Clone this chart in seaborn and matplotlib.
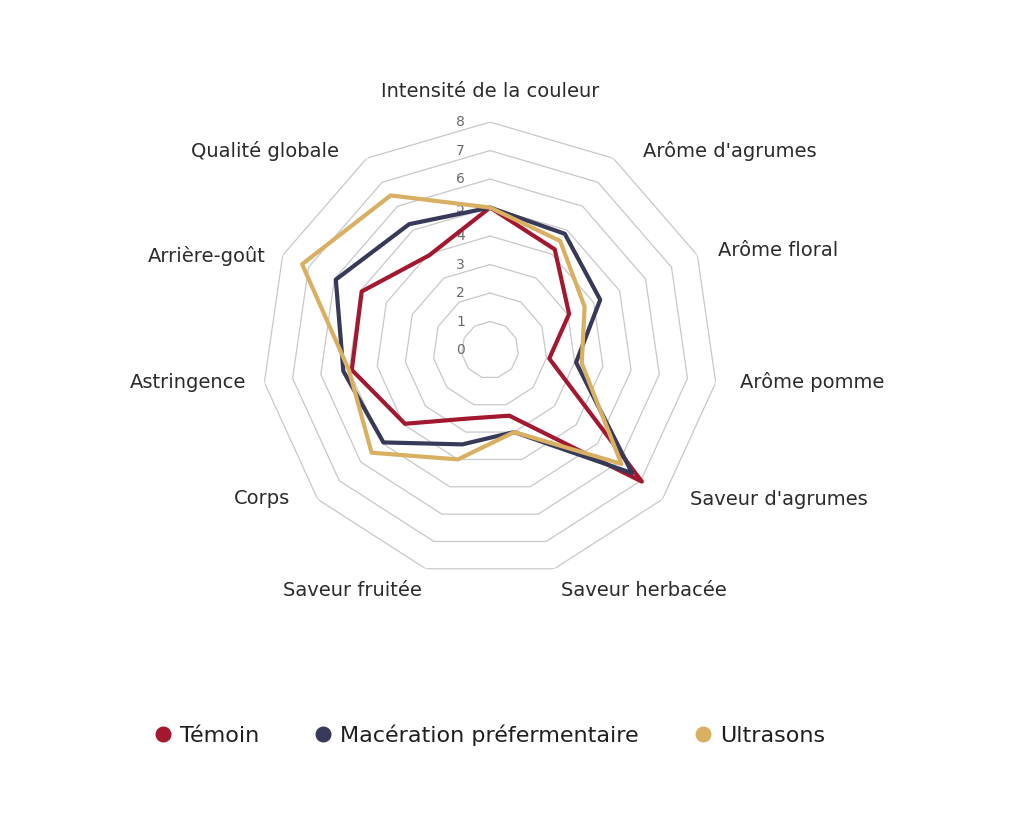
import numpy as np
import pandas as pd
import matplotlib
matplotlib.use("Agg")
import matplotlib.pyplot as plt
from matplotlib.lines import Line2D
import seaborn as sns

categories = ["Intensité de la couleur", "Arôme d'agrumes", "Arôme floral", "Arôme pomme",
              "Saveur d'agrumes", "Saveur herbacée", "Saveur fruitée", "Corps",
              "Astringence", "Arrière-goût", "Qualité globale"]
temoin = [5.0, 4.2, 3.05, 2.1, 7.05, 2.4, 2.5, 3.95, 4.9, 4.95, 3.95]
maceration = [5.0, 4.85, 4.25, 3.05, 6.6, 3.0, 3.45, 4.95, 5.2, 5.95, 5.25]
ultrasons = [5.0, 4.55, 3.65, 3.25, 6.1, 3.0, 4.0, 5.5, 5.0, 7.25, 6.45]
series_names = ["Témoin", "Macération préfermentaire", "Ultrasons"]
ticks = [0, 1, 2, 3, 4, 5, 6, 7, 8]

colors = ["#A3182F", "#363A58", "#D9B062"]

# label layout (pixel offsets from the outer ring vertex) and alignment
label_offsets = [(0, 31), (30, 7), (21, 5), (24, 0), (28, 0), (7, -22), (-4, -22),
                 (-28, 1), (-18, 0), (-17, -1), (-28, 7)]
label_ha = ["center", "left", "left", "left", "left", "left", "right",
            "right", "right", "right", "right"]

sns.set_theme(style="white")
plt.rcParams['font.family'] = ['DejaVu Sans']

n = len(categories)
angles = np.linspace(0, 2 * np.pi, n, endpoint=False)
closed_angles = np.append(angles, 2 * np.pi)

frames = []
for name, vals in zip(series_names, [temoin, maceration, ultrasons]):
    frames.append(pd.DataFrame({"theta": closed_angles,
                                "value": list(vals) + [vals[0]],
                                "group": name}))
df = pd.concat(frames, ignore_index=True)

fig = plt.figure(figsize=(10.24, 8.22), dpi=100)
ax = fig.add_axes([0.2559, 0.2968, 0.4453, 0.5547], projection="polar")
ax.set_theta_offset(np.pi / 2)
ax.set_theta_direction(-1)

# polygon grid rings
for t in ticks[1:]:
    ax.plot(closed_angles, [t] * (n + 1), color="#C8C8C8", lw=0.9, zorder=1)

sns.lineplot(data=df, x="theta", y="value", hue="group", sort=False, estimator=None,
             units="group", palette=dict(zip(series_names, colors)), hue_order=series_names,
             lw=3.0, legend=False, ax=ax, zorder=3)

ax.set_ylim(0, 8)
ax.grid(False)
ax.spines["polar"].set_visible(False)
ax.set_xticks([])
ax.set_yticks([])
ax.set_xlabel("")
ax.set_ylabel("")
ax.set_facecolor("none")

# tick labels
for t in ticks:
    ax.annotate(str(t), xy=(0, t), xytext=(-25, 0), textcoords="offset pixels",
                ha="right", va="center", fontsize=10, color="#6B6B6B", zorder=2)

# category labels
for a, lab, off, ha in zip(angles, categories, label_offsets, label_ha):
    ax.annotate(lab, xy=(a, 8), xytext=off, textcoords="offset pixels",
                ha=ha, va="center", fontsize=14, color="#2B2B2B")

handles = [Line2D([0], [0], marker="o", color="none", markerfacecolor=c, markeredgecolor=c,
                  markersize=10.5) for c in colors]
leg = fig.legend(handles, series_names, loc="center", bbox_to_anchor=(0.477, 0.106), ncol=3,
                 frameon=False, fontsize=16, handletextpad=0.25, columnspacing=2.4,
                 handlelength=1.0)
for txt in leg.get_texts():
    txt.set_color("#1F1F1F")

fig.savefig("out.png", dpi=100, facecolor="white")
